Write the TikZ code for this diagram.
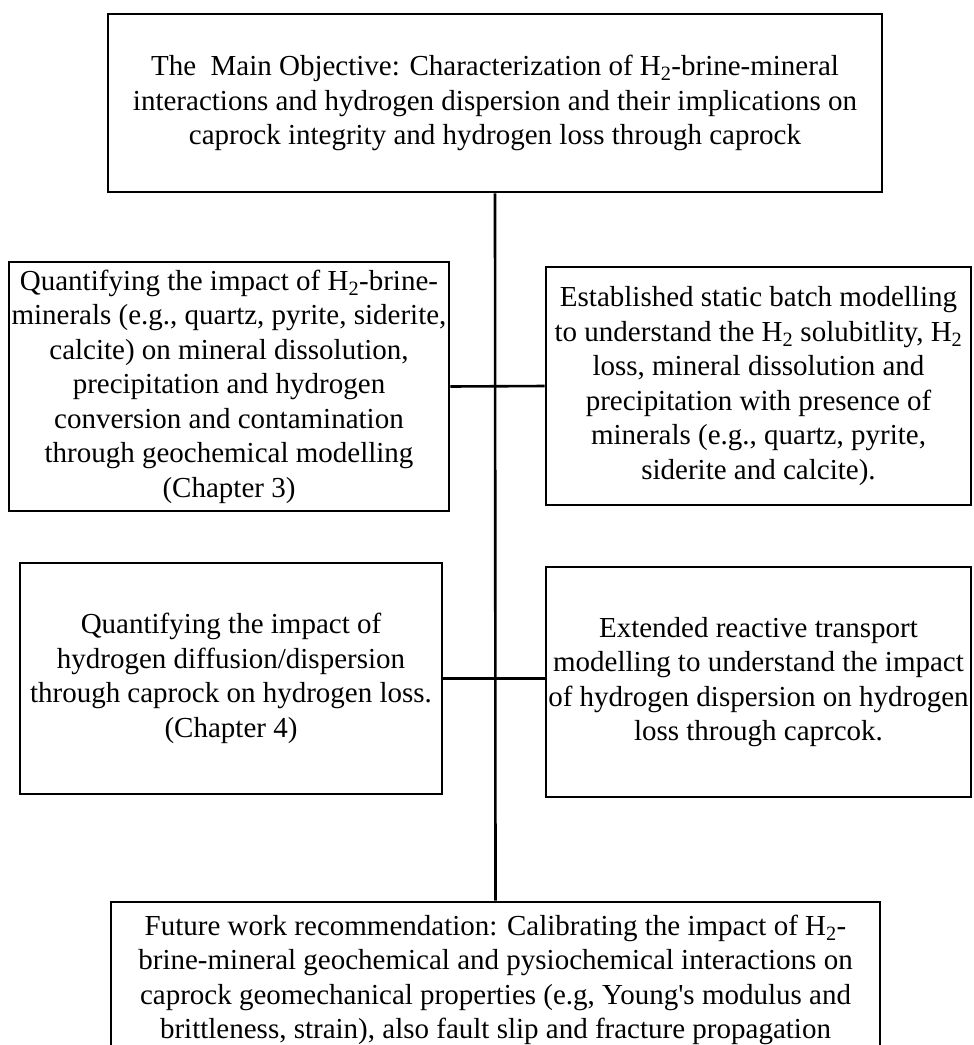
\documentclass[tikz,border=0pt]{standalone}
\usepackage{fontspec}
\setmainfont{Liberation Serif}
\begin{document}
\begin{tikzpicture}[x=1pt,y=-1pt,
  box/.style={draw,line width=2.6pt,inner sep=0pt,align=center,font=\fontsize{29}{34.5}\selectfont},
  link/.style={line width=2.6pt}]
\clip (0,0) rectangle (974,1045);
\useasboundingbox (0,0) rectangle (974,1045);
\node[box,minimum width=774,minimum height=178] (top) at (495,103)
  {The~ Main Objective: Characterization of H\textsubscript{2}-brine-mineral\\
   interactions and hydrogen dispersion and their implications on\\
   caprock integrity and hydrogen loss through caprock};
\node[box,minimum width=440,minimum height=249] (l1) at (229,386.5)
  {Quantifying the impact of H\textsubscript{2}-brine-\\
   minerals (e.g., quartz, pyrite, siderite,\\
   calcite) on mineral dissolution,\\
   precipitation and hydrogen\\
   conversion and contamination\\
   through geochemical modelling\\
   (Chapter 3)};
\node[box,minimum width=425,minimum height=238] (r1) at (758.5,386)
  {Established static batch modelling\\
   to understand the H\textsubscript{2} solubitlity, H\textsubscript{2}\\
   loss, mineral dissolution and\\
   precipitation with presence of\\
   minerals (e.g., quartz, pyrite,\\
   siderite and calcite).};
\node[box,minimum width=422,minimum height=231] (l2) at (231,678.5)
  {Quantifying the impact of\\
   hydrogen diffusion/dispersion\\
   through caprock on hydrogen loss.\\
   (Chapter 4)};
\node[box,minimum width=425,minimum height=230] (r2) at (758.5,682)
  {Extended reactive transport\\
   modelling to understand the impact\\
   of hydrogen dispersion on hydrogen\\
   loss through caprcok.};
\node[box,minimum width=769,minimum height=156] (bot) at (495.5,980)
  {Future work recommendation: Calibrating the impact of H\textsubscript{2}-\\
   brine-mineral geochemical and pysiochemical interactions on\\
   caprock geomechanical properties (e.g, Young\textquotesingle s modulus and\\
   brittleness, strain), also fault slip and fracture propagation};
\draw[link] (top.south) -- (bot.north);
\draw[link] (l1.east) -- (r1.west);
\draw[link] (l2.east) -- (l2.east -| r2.west);
\end{tikzpicture}
\end{document}
